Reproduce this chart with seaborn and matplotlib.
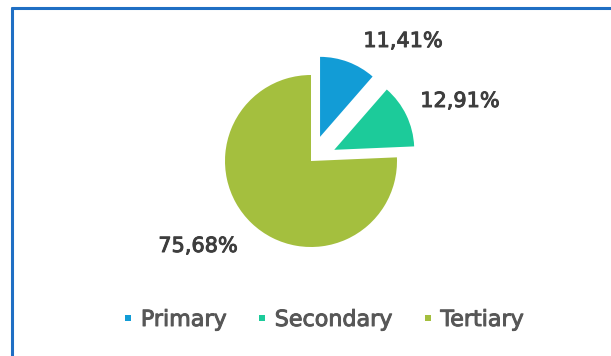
import matplotlib
matplotlib.use("Agg")
import matplotlib.pyplot as plt
import matplotlib.patheffects as pe
from matplotlib.lines import Line2D
import seaborn as sns

# Share of employment by sector
categories = ["Primary", "Secondary", "Tertiary"]
shares = [11.41, 12.91, 75.68]
palette = ["#129cd6", "#1ccb9a", "#a4bf3e"]

sns.set_theme(style="white")
plt.rcParams["font.family"] = ["DejaVu Sans"]

W, H = 611, 356
fig = plt.figure(figsize=(W / 100, H / 100), dpi=100)
fig.patch.set_facecolor("white")
ax = fig.add_axes([0, 0, 1, 1])

cx, cy, r = 311, H - 161, 86
explode_frac = [0.3, 0.3, 0.0]
wedges, _ = ax.pie(
    shares,
    colors=sns.color_palette(palette),
    startangle=90,
    counterclock=False,
    explode=[e * r for e in explode_frac],
    center=(cx, cy),
    radius=r,
    wedgeprops=dict(linewidth=0),
)
# exploded slices are drawn a little smaller
for w, e in zip(wedges, explode_frac):
    if e > 0:
        w.set_radius(r * 0.93)
ax.set_xlim(0, W)
ax.set_ylim(0, H)
ax.set_aspect("equal")
ax.axis("off")

label_color = "#3d3d3d"
legend_color = "#575757"

# value labels, offsets from the pie centre in pixels
label_offsets = [(92, 120), (149, 60), (-113, -85)]
for val, (dx, dy) in zip(shares, label_offsets):
    txt = f"{val:.2f}".replace(".", ",") + "%"
    ax.text(cx + dx, cy + dy, txt, ha="center", va="center",
            fontsize=15, color=label_color,
            path_effects=[pe.withStroke(linewidth=0.7, foreground=label_color)])

handles = [Line2D([], [], marker="s", linestyle="none", markersize=5,
                  markerfacecolor=c, markeredgewidth=0) for c in palette]
leg = ax.legend(handles, categories, loc="center",
                bbox_to_anchor=(322 / W, 1 - 320 / H),
                ncol=3, frameon=False, handletextpad=0.2,
                columnspacing=1.2, handlelength=0.75,
                labelcolor=legend_color, prop=dict(size=16))
for t in leg.get_texts():
    t.set_path_effects([pe.withStroke(linewidth=0.7, foreground=legend_color)])

# chart frame: only the top and left edges fall inside the image
fig.add_artist(Line2D([12 / W, 1], [1 - 8 / H, 1 - 8 / H], color="#1f6fc4",
                      linewidth=2.2, transform=fig.transFigure))
fig.add_artist(Line2D([12 / W, 12 / W], [0, 1 - 8 / H], color="#1f6fc4",
                      linewidth=2.2, transform=fig.transFigure))

fig.savefig("out.png", dpi=100, facecolor="white")
